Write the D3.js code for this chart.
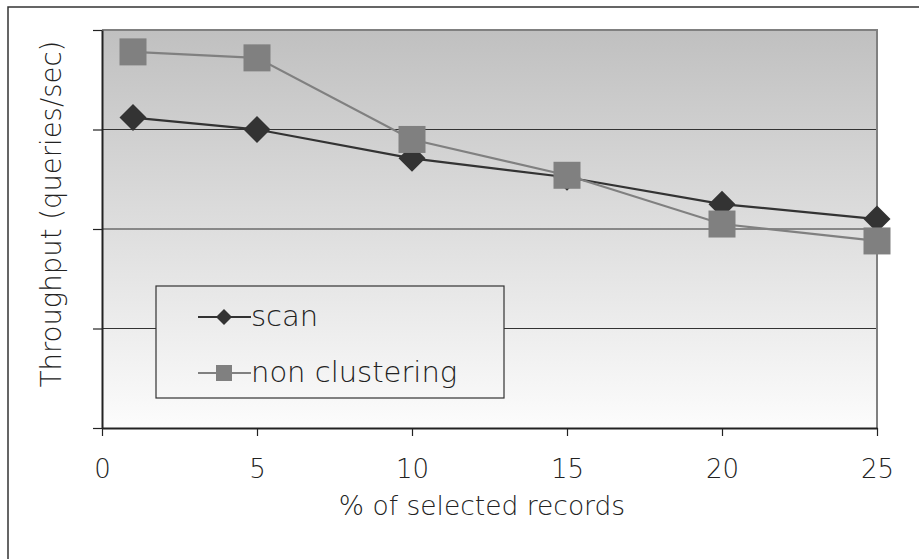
<!DOCTYPE html>
<html>
<head>
<meta charset="utf-8">
<script src="https://cdn.jsdelivr.net/npm/d3@7"></script>
<style>
  body { margin: 0; background: #fff; }
  svg text { font-family: "DejaVu Sans", Lato, sans-serif; font-weight: 200; fill: #222; }
</style>
</head>
<body>
<svg id="chart" width="919" height="559"></svg>
<script>
// % of selected records
const pct = [1, 5, 10, 15, 20, 25]
// throughput, unlabeled axis (0..4 range)
const scanVals = [3.12, 3.0, 2.71, 2.52, 2.25, 2.10]
const nonClusteringVals = [3.78, 3.72, 2.90, 2.54, 2.05, 1.88]
const xTicks = [0, 5, 10, 15, 20, 25]
const yTicks = [0, 1, 2, 3, 4]

const series = [
  { name: 'scan', values: scanVals, color: '#333333', marker: 'diamond' },
  { name: 'non clustering', values: nonClusteringVals, color: '#808080', marker: 'square' },
]

const svg = d3.select('#chart')
const plotL = 102, plotR = 877, plotT = 30, plotB = 428

const x = d3.scaleLinear().domain([0, 25]).range([plotL, plotR])
const y = d3.scaleLinear().domain([0, 4]).range([plotB, plotT])

const defs = svg.append('defs')
const grad = defs.append('linearGradient')
  .attr('id', 'bg')
  .attr('gradientUnits', 'userSpaceOnUse')
  .attr('x1', 0).attr('y1', plotT).attr('x2', 0).attr('y2', plotB)
grad.append('stop').attr('offset', 0).attr('stop-color', '#c0c0c0')
grad.append('stop').attr('offset', 1).attr('stop-color', '#fcfcfc')

// outer chart frame (runs off the right/bottom edge)
svg.append('rect')
  .attr('x', 8).attr('y', 7).attr('width', 940).attr('height', 580)
  .attr('fill', 'none').attr('stroke', '#333').attr('stroke-width', 1.5)

svg.append('rect')
  .attr('x', plotL).attr('y', plotT)
  .attr('width', plotR - plotL).attr('height', plotB - plotT)
  .attr('fill', 'url(#bg)')

// gridlines
svg.append('g')
  .selectAll('line')
  .data(yTicks.slice(1, -1))
  .join('line')
    .attr('x1', plotL).attr('x2', plotR)
    .attr('y1', d => y(d)).attr('y2', d => y(d))
    .attr('stroke', '#333').attr('stroke-width', 1.2)

// plot border, top and right
svg.append('path')
  .attr('d', `M${plotL},${plotT}H${plotR}V${plotB}`)
  .attr('fill', 'none').attr('stroke', '#808080').attr('stroke-width', 2)

// axes
const xAxis = svg.append('g')
  .attr('transform', `translate(0,${plotB})`)
  .call(d3.axisBottom(x).tickValues(xTicks).tickSize(8).tickPadding(24).tickSizeOuter(0))
const yAxis = svg.append('g')
  .attr('transform', `translate(${plotL},0)`)
  .call(d3.axisLeft(y).tickValues(yTicks).tickSize(9).tickFormat('').tickSizeOuter(0))

xAxis.attr('font-family', null).attr('font-size', null)
yAxis.attr('font-family', null).attr('font-size', null)
xAxis.select('.domain').attr('stroke', '#222').attr('stroke-width', 2)
yAxis.select('.domain').attr('stroke', '#222').attr('stroke-width', 2)
svg.selectAll('.tick line').attr('stroke', '#222').attr('stroke-width', 1.2)
xAxis.selectAll('.tick text')
  .attr('font-size', 26).attr('fill', '#222')

// axis titles
svg.append('text')
  .attr('x', 482).attr('y', 515)
  .attr('text-anchor', 'middle')
  .attr('font-size', 26.5)
  .text('% of selected records')

svg.append('text')
  .attr('transform', 'translate(61,214) rotate(-90)')
  .attr('text-anchor', 'middle')
  .attr('font-size', 27.5)
  .text('Throughput (queries/sec)')

function drawMarker(sel, type, size) {
  if (type === 'square') {
    sel.append('rect')
      .attr('x', -size / 2).attr('y', -size / 2)
      .attr('width', size).attr('height', size)
  } else {
    const s = size / Math.SQRT2
    sel.append('rect')
      .attr('x', -s / 2).attr('y', -s / 2)
      .attr('width', s).attr('height', s)
      .attr('transform', 'rotate(45)')
  }
}

const line = d3.line().x((d, i) => x(pct[i])).y(d => y(d))

// legend box (drawn before the lines so the lines sit on top)
const lg = svg.append('g')
lg.append('rect')
  .attr('x', 156).attr('y', 286).attr('width', 348).attr('height', 112)
  .attr('fill', 'url(#bg)').attr('stroke', '#333').attr('stroke-width', 1.2)

series.forEach((s, k) => {
  const g = svg.append('g')
  g.append('path')
    .datum(s.values)
    .attr('d', line)
    .attr('fill', 'none')
    .attr('stroke', s.color)
    .attr('stroke-width', 2.2)
  g.selectAll('g.m')
    .data(s.values)
    .join('g')
      .attr('class', 'm')
      .attr('transform', (d, i) => `translate(${x(pct[i])},${y(d)})`)
      .attr('fill', s.color)
      .each(function () { drawMarker(d3.select(this), s.marker, 27) })

  const ly = 317 + k * 56
  lg.append('line')
    .attr('x1', 198).attr('x2', 251).attr('y1', ly).attr('y2', ly)
    .attr('stroke', s.color).attr('stroke-width', 2)
  const mg = lg.append('g')
    .attr('transform', `translate(224,${ly})`)
    .attr('fill', s.color)
  drawMarker(mg, s.marker, 16)
  lg.append('text')
    .attr('x', 251).attr('y', ly + 9)
    .attr('font-size', 29)
    .text(s.name)
})
</script>
</body>
</html>
